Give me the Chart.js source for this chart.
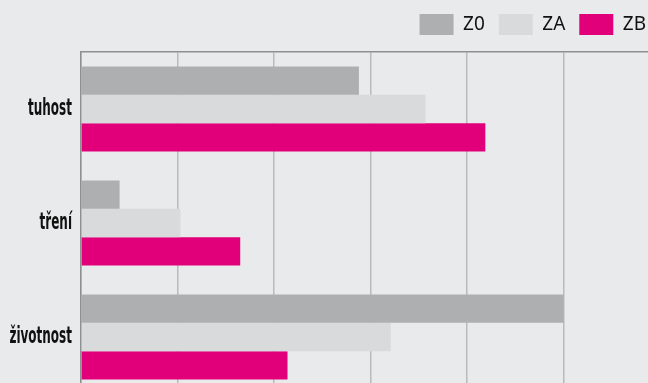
<!DOCTYPE html>
<html>
<head>
<meta charset="utf-8">
<script src="https://cdn.jsdelivr.net/npm/chart.js@4"></script>
<style>
  html, body { margin: 0; padding: 0; background: #e9eaec; overflow: hidden; }
  #wrap { position: relative; width: 660px; height: 395px; }
</style>
</head>
<body>
<div id="wrap"><canvas id="chart"></canvas></div>
<script>
// categories and series
const categories = ['tuhost', 'tření', 'životnost'];
const seriesNames = ['Z0', 'ZA', 'ZB'];
const z0Values = [2.88, 0.40, 5.0];
const zaValues = [3.57, 1.03, 3.21];
const zbValues = [4.19, 1.65, 2.14];
const seriesColors = ['#aeafb0', '#d9dadb', '#e2007a'];

// category names are drawn narrow and bold, like a condensed face
const condensedLabels = {
  id: 'condensedLabels',
  afterDraw(chart) {
    const { ctx, scales: { y }, chartArea } = chart;
    ctx.save();
    ctx.fillStyle = '#111';
    ctx.font = 'bold 23px "Liberation Sans Narrow", "DejaVu Sans Condensed", sans-serif';
    ctx.textAlign = 'right';
    ctx.textBaseline = 'middle';
    categories.forEach((label, i) => {
      const yy = y.getPixelForValue(i);
      ctx.save();
      ctx.translate(chartArea.left - 9, yy);
      ctx.scale(0.58, 1);
      ctx.fillText(label, 0, 0);
      ctx.restore();
    });
    ctx.restore();
  }
};

// fixed legend band height
const legendHeight = {
  id: 'legendHeight',
  beforeInit(chart) {
    const fit = chart.legend.fit;
    chart.legend.fit = function () {
      fit.bind(chart.legend)();
      this.height = 52;
    };
  }
};

const datasets = [z0Values, zaValues, zbValues].map((vals, i) => ({
  label: seriesNames[i],
  data: vals,
  backgroundColor: seriesColors[i],
  borderWidth: 0,
  barPercentage: 1,
  categoryPercentage: 0.745
}));

new Chart(document.getElementById('chart'), {
  type: 'bar',
  data: { labels: categories, datasets },
  options: {
    indexAxis: 'y',
    responsive: true,
    maintainAspectRatio: false,
    animation: false,
    layout: { padding: { top: 0, bottom: 1, left: 0, right: 0 } },
    plugins: {
      tooltip: { enabled: false },
      legend: {
        position: 'top',
        align: 'end',
        labels: {
          boxWidth: 34,
          boxHeight: 21,
          padding: 14,
          color: '#111',
          font: { family: '"Noto Sans", "Open Sans", sans-serif', size: 19 }
        }
      }
    },
    scales: {
      x: {
        position: 'top',
        min: 0,
        max: 6,
        ticks: { display: false, stepSize: 1 },
        grid: { color: '#b9babb', lineWidth: 1.5, drawTicks: false },
        border: { color: '#8e8f90', width: 1.5 }
      },
      y: {
        ticks: { display: false },
        grid: { display: false, drawTicks: false },
        border: { color: '#8e8f90', width: 1.5 },
        afterFit(scale) { scale.width = 81; }
      }
    }
  },
  plugins: [legendHeight, condensedLabels]
});
</script>
</body>
</html>
